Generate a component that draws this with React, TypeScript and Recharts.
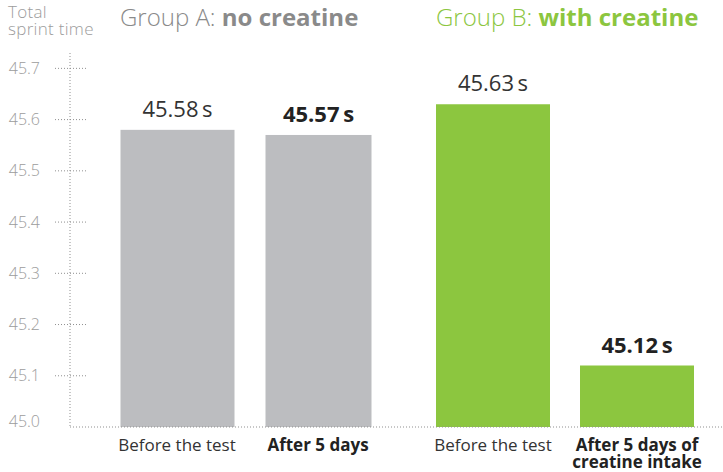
import React from 'react';
import { BarChart, Bar, XAxis, YAxis, LabelList } from 'recharts';

const groupACategories = ['Before the test', 'After 5 days'];
const groupAValues = [45.58, 45.57];
const groupBCategories = ['Before the test', 'After 5 days of\ncreatine intake'];
const groupBValues = [45.63, 45.12];
const emphasized = [false, true];
const yTicks = [45.0, 45.1, 45.2, 45.3, 45.4, 45.5, 45.6, 45.7];
const yDomain: [number, number] = [45.0, 45.73];
const titleA = ['Group A: ', 'no creatine'];
const titleB = ['Group B: ', 'with creatine'];
const yAxisTitle = ['Total', 'sprint time'];
const unit = 's';

const FONT = '"Open Sans", "Noto Sans", sans-serif';
const GREY_BAR = '#bcbdc0';
const GREEN = '#8cc63f';
const AXIS = '#8f8f8f';

const dataA = groupACategories.map((name, i) => ({ name, value: groupAValues[i] }));
const dataB = groupBCategories.map((name, i) => ({ name, value: groupBValues[i] }));

const fmt = (v: number) => `${v.toFixed(2)}\u2009${unit}`;

const YTick = (props: any) => {
  const { x, y, payload } = props;
  const v = payload.value as number;
  const isBase = v === yDomain[0];
  return (
    <g>
      {!isBase && (
        <line x1={x - 15} x2={x + 16} y1={y} y2={y} stroke={AXIS} strokeDasharray="1 2" />
      )}
      <text
        x={x - 30}
        y={isBase ? y - 6 : y}
        dy="0.35em"
        textAnchor="end"
        fontFamily={FONT}
        fontSize={16}
        fontWeight={300}
        fill="#9c9c9c"
      >
        {v.toFixed(1)}
      </text>
    </g>
  );
};

const XTick = (props: any) => {
  const { x, y, payload, index } = props;
  const lines = String(payload.value).split('\n');
  const bold = emphasized[index];
  return (
    <text
      x={x}
      y={y + 24}
      textAnchor="middle"
      fontFamily={FONT}
      fontSize={17}
      fontWeight={bold ? 700 : 400}
      fill={bold ? '#222' : '#333'}
    >
      {lines.map((l, i) => (
        <tspan key={i} x={x} dy={i === 0 ? 0 : 16.5}>
          {l}
        </tspan>
      ))}
    </text>
  );
};

const ValueLabel = (props: any) => {
  const { x, y, width, value, index } = props;
  const bold = emphasized[index];
  return (
    <text
      x={x + width / 2}
      y={y - 13}
      textAnchor="middle"
      fontFamily={FONT}
      fontSize={22}
      fontWeight={bold ? 700 : 400}
      fill={bold ? '#222' : '#333'}
    >
      {fmt(Number(value))}
    </text>
  );
};

const makeShape = (insetIndex: number, inset: number) => (props: any) => {
  const { x, y, width, height, fill, index } = props;
  const d = index === insetIndex ? inset : 0;
  return <rect x={x + d} y={y} width={width - 2 * d} height={height} fill={fill} />;
};

const dotted = { stroke: AXIS, strokeDasharray: '1 2', strokeWidth: 1 };

const Title = ({ parts, color, left }: { parts: string[]; color: string; left: number }) => (
  <div
    style={{
      position: 'absolute',
      left,
      top: 2,
      fontFamily: FONT,
      fontSize: 24,
      color,
      whiteSpace: 'nowrap',
      lineHeight: '30px',
    }}
  >
    <span style={{ fontWeight: 300 }}>{parts[0]}</span>
    <span style={{ fontWeight: 700 }}>{parts[1]}</span>
  </div>
);

export default function App() {
  return (
    <div style={{ position: 'absolute', left: 0, top: 0, width: 723, height: 472, background: '#fff' }}>
      <div
        style={{
          position: 'absolute',
          left: 8,
          top: 3,
          fontFamily: FONT,
          fontSize: 17,
          fontWeight: 300,
          letterSpacing: 0.3,
          color: '#9c9c9c',
          lineHeight: '17px',
          whiteSpace: 'nowrap',
        }}
      >
        {yAxisTitle.map((t, i) => (
          <div key={i}>{t}</div>
        ))}
      </div>
      <Title parts={titleA} color="#8a8a8a" left={120} />
      <Title parts={titleB} color={GREEN} left={436} />

      <div style={{ position: 'absolute', left: 0, top: 0 }}>
        <BarChart width={403} height={472} data={dataA} margin={{ top: 53, right: 0, bottom: 0, left: 0 }}>
          <YAxis
            type="number"
            domain={yDomain}
            ticks={yTicks}
            allowDataOverflow
            width={70}
            tickLine={false}
            tickSize={0}
            tickMargin={0}
            axisLine={dotted}
            tick={<YTick />}
            interval={0}
          />
          <XAxis
            dataKey="name"
            height={45}
            padding={{ left: 36.5, right: 14.5 }}
            tickLine={false}
            tickSize={0}
            tickMargin={0}
            axisLine={dotted}
            tick={<XTick />}
            interval={0}
          />
          <Bar dataKey="value" fill={GREY_BAR} barSize={114} isAnimationActive={false} shape={makeShape(1, 4)}>
            <LabelList dataKey="value" content={<ValueLabel />} />
          </Bar>
        </BarChart>
      </div>

      <div style={{ position: 'absolute', left: 393, top: 0 }}>
        <BarChart width={330} height={472} data={dataB} margin={{ top: 53, right: 0, bottom: 0, left: 10 }}>
          <YAxis
            type="number"
            domain={yDomain}
            ticks={yTicks}
            allowDataOverflow
            width={0}
            tick={false}
            tickLine={false}
            axisLine={dotted}
          />
          <XAxis
            dataKey="name"
            height={45}
            padding={{ left: 18, right: 14 }}
            tickLine={false}
            tickSize={0}
            tickMargin={0}
            axisLine={dotted}
            tick={<XTick />}
            interval={0}
          />
          <Bar dataKey="value" fill={GREEN} barSize={114} isAnimationActive={false}>
            <LabelList dataKey="value" content={<ValueLabel />} />
          </Bar>
        </BarChart>
      </div>
    </div>
  );
}
